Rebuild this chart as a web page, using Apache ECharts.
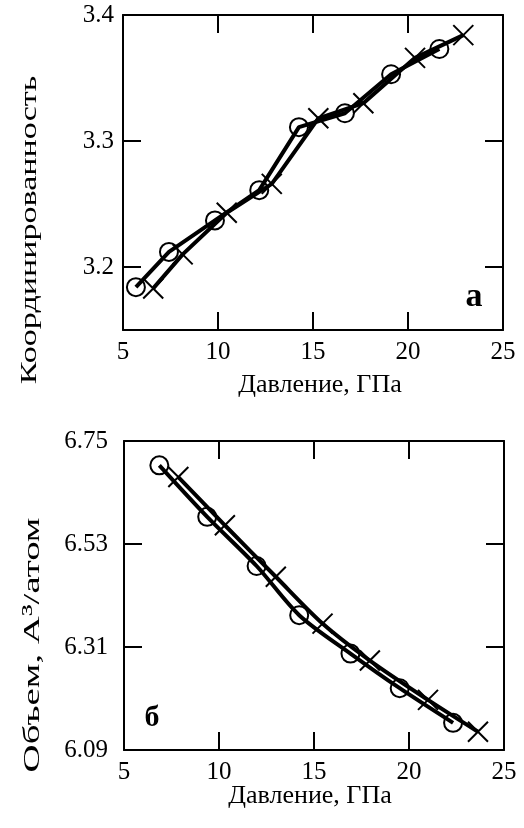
<!DOCTYPE html>
<html><head><meta charset="utf-8">
<script src="https://cdn.jsdelivr.net/npm/echarts@6/dist/echarts.min.js"></script>
<style>html,body{margin:0;padding:0;background:#fff}#c{width:524px;height:828px}</style>
</head><body><div id="c"></div>
<script>
// Panel а: coordination number vs pressure
const pressureCircA = [5.68, 7.42, 9.84, 12.17, 14.26, 16.68, 19.11, 21.65];
const coordCircA    = [3.184, 3.212, 3.237, 3.261, 3.311, 3.322, 3.353, 3.373];
const pressureCrossA = [6.59, 8.14, 10.46, 12.83, 15.28, 17.65, 20.37, 22.91];
const coordCrossA    = [3.183, 3.210, 3.243, 3.266, 3.318, 3.330, 3.366, 3.384];
// Panel б: volume vs pressure
const pressureCircB = [6.86, 9.38, 11.98, 14.22, 16.92, 19.51, 22.32];
const volumeCircB   = [6.698, 6.588, 6.483, 6.378, 6.296, 6.222, 6.148];
const pressureCrossB = [7.86, 10.31, 12.99, 15.45, 17.94, 21.0, 23.63];
const volumeCrossB   = [6.673, 6.570, 6.460, 6.360, 6.281, 6.197, 6.129];
// Tick labels
const xTickLabels = [5, 10, 15, 20, 25];
const yTickLabelsA = [3.2, 3.3, 3.4];
const yTickLabelsB = [6.09, 6.31, 6.53, 6.75];

const FONT = 'Liberation Serif';
const zip = (a, b) => a.map((v, i) => [v, b[i]]);
const CROSS = 'path://M0,0L10,10M10,0L0,10';

function xAxes(gi) {
  const base = {
    type: 'value', gridIndex: gi, min: xTickLabels[0], max: xTickLabels[xTickLabels.length - 1], interval: 5,
    splitLine: { show: false },
    axisLine: { show: true, lineStyle: { color: '#000', width: 2 } },
    axisTick: { show: true, inside: true, length: 18, lineStyle: { color: '#000', width: 2 } }
  };
  return [
    Object.assign({}, base, { position: 'bottom',
      axisLabel: { show: true, margin: 10, color: '#000', fontFamily: FONT, fontSize: 25,
        customValues: xTickLabels } }),
    Object.assign({}, base, { position: 'top', axisLabel: { show: false } })
  ];
}
function yAxes(gi, min, max, labels, tickVals, margin, digits) {
  const base = {
    type: 'value', gridIndex: gi, min: min, max: max,
    splitLine: { show: false },
    axisLine: { show: true, lineStyle: { color: '#000', width: 2 } },
    axisTick: { show: true, inside: true, length: 18, customValues: tickVals, lineStyle: { color: '#000', width: 2 } }
  };
  return [
    Object.assign({}, base, { position: 'left',
      axisLabel: { show: true, margin: margin, color: '#000', fontFamily: FONT, fontSize: 25,
        customValues: labels, formatter: v => Number(v).toFixed(digits) } }),
    Object.assign({}, base, { position: 'right', axisLabel: { show: false } })
  ];
}
function circSeries(xi, yi, data, smooth) {
  return { type: 'line', xAxisIndex: xi, yAxisIndex: yi, data: data, smooth: smooth,
    symbol: 'circle', symbolSize: 18,
    itemStyle: { color: 'rgba(0,0,0,0)', borderColor: '#000', borderWidth: 2 },
    lineStyle: { color: '#000', width: 4 }, z: 3, animation: false };
}
function crossSeries(xi, yi, data, smooth) {
  return { type: 'line', xAxisIndex: xi, yAxisIndex: yi, data: data, smooth: smooth,
    symbol: CROSS, symbolSize: 20,
    itemStyle: { color: 'rgba(0,0,0,0)', borderColor: '#000', borderWidth: 2 },
    lineStyle: { color: '#000', width: 4 }, z: 3, animation: false };
}

const chart = echarts.init(document.getElementById('c'), null, { renderer: 'canvas' });
chart.setOption({
  backgroundColor: '#fff',
  animation: false,
  grid: [
    { left: 123, right: 21, top: 15, height: 315, outerBoundsMode: 'none' },
    { left: 124, right: 20, top: 441, height: 309, outerBoundsMode: 'none' }
  ],
  xAxis: xAxes(0).concat(xAxes(1)),
  yAxis: yAxes(0, 3.15, 3.4, yTickLabelsA, [3.2, 3.3], 9, 1)
    .concat(yAxes(1, 6.09, 6.75, yTickLabelsB, [6.31, 6.53], 16, 2)),
  series: [
    circSeries(0, 0, zip(pressureCircA, coordCircA), false),
    crossSeries(0, 0, zip(pressureCrossA, coordCrossA), false),
    circSeries(2, 2, zip(pressureCircB, volumeCircB), 0.3),
    crossSeries(2, 2, zip(pressureCrossB, volumeCrossB), 0.3)
  ],
  graphic: [
    { type: 'text', x: 30, y: 230, rotation: Math.PI / 2, scaleX: 1.42,
      style: { text: 'Координированность', font: '24px "Liberation Serif"', fill: '#000', align: 'center', verticalAlign: 'middle' } },
    { type: 'text', x: 33, y: 645, rotation: Math.PI / 2, scaleX: 1.62,
      style: { text: 'Объем, А³/атом', font: '24px "Liberation Serif"', fill: '#000', align: 'center', verticalAlign: 'middle' } },
    { type: 'text', x: 320, y: 385,
      style: { text: 'Давление, ГПа', font: '26px "Liberation Serif"', fill: '#000', align: 'center', verticalAlign: 'middle' } },
    { type: 'text', x: 310, y: 796,
      style: { text: 'Давление, ГПа', font: '26px "Liberation Serif"', fill: '#000', align: 'center', verticalAlign: 'middle' } },
    { type: 'text', x: 474, y: 297,
      style: { text: 'а', font: 'bold 34px "Liberation Serif"', fill: '#000', align: 'center', verticalAlign: 'middle' } },
    { type: 'text', x: 152, y: 718,
      style: { text: 'б', font: 'bold 30px "Liberation Serif"', fill: '#000', align: 'center', verticalAlign: 'middle' } }
  ]
});
</script>
</body></html>
